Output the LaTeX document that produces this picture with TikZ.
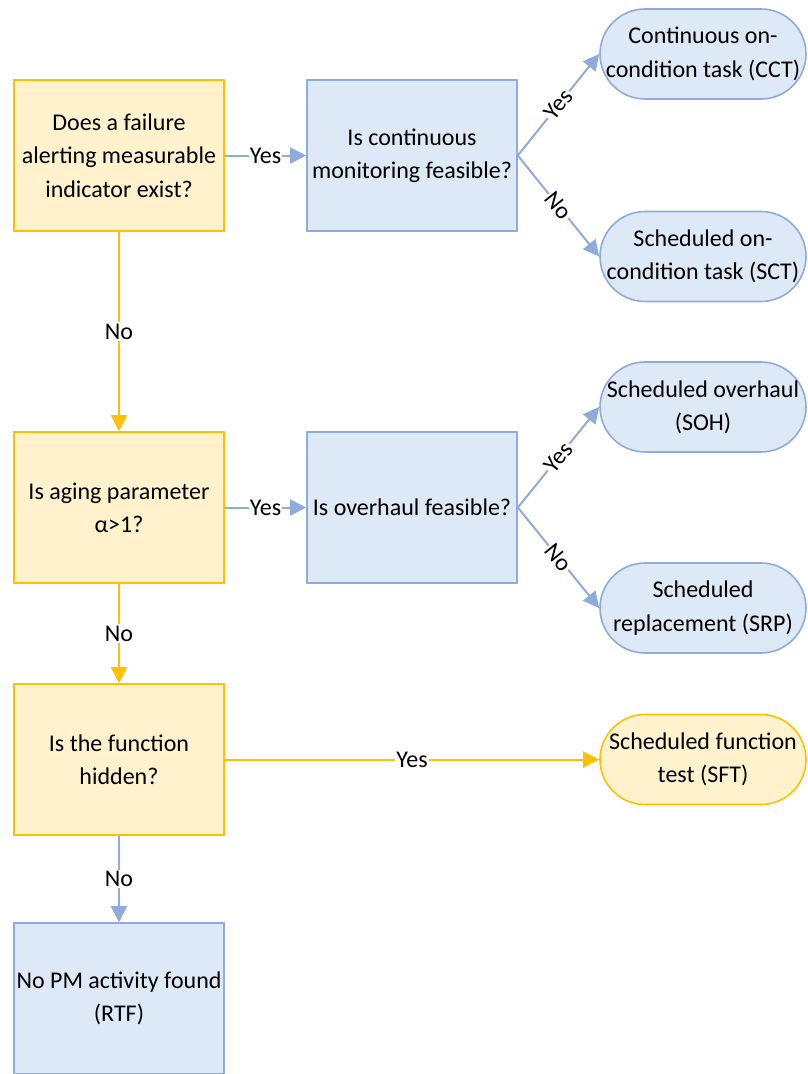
\documentclass[tikz,border=0pt]{standalone}
\usepackage{fontspec}
\setmainfont{Carlito}
\usetikzlibrary{arrows.meta}
\definecolor{yline}{RGB}{255,192,0}
\definecolor{yfill}{RGB}{255,242,204}
\definecolor{bline}{RGB}{143,170,220}
\definecolor{bfill}{RGB}{221,233,246}
\begin{document}
\begin{tikzpicture}[x=0.75pt,y=-0.75pt,line width=1.5pt,
   >={Triangle[length=12pt,width=12pt]},
   every node/.style={font=\fontsize{18pt}{25pt}\selectfont,align=center},
   ybox/.style={draw=yline,fill=yfill,line width=1.2pt,inner sep=2pt,minimum width=157.5pt,minimum height=113.25pt},
   bbox/.style={draw=bline,fill=bfill,line width=1.2pt,inner sep=2pt,minimum width=157.5pt,minimum height=113.25pt},
   yterm/.style={ybox,rounded corners=33.75pt,minimum width=154.5pt,minimum height=67.5pt},
   bterm/.style={bbox,rounded corners=33.75pt,minimum width=154.5pt,minimum height=67.5pt},
   yarr/.style={draw=yline,->},
   barr/.style={draw=bline,->},
   lab/.style={fill=white,inner sep=1pt}]
     \useasboundingbox (0,0) rectangle (807,1074);
       \clip (0,0) rectangle (807,1074);
   \node (A) at (119,155.5)[ybox]{Does a failure\\alerting measurable\\indicator exist?};
      \node (B) at (412,155.5)[bbox]{Is continuous\\monitoring feasible?};
         \node (C) at (703,54)[bterm]{Continuous on-\\condition task (CCT)};
         \node (D) at (703,256.5)[bterm]{Scheduled on-\\condition task (SCT)};
   \node (E) at (119,507.5)[ybox]{Is aging parameter\\α>1?};
      \node (F) at (412,507.5)[bbox]{Is overhaul feasible?};
         \node (G) at (703,407)[bterm]{Scheduled overhaul\\(SOH)};
         \node (H) at (703,608)[bterm]{Scheduled\\replacement (SRP)};
   \node (I) at (119,759.5)[ybox]{Is the function\\hidden?};
         \node (J) at (703,759.5)[yterm]{Scheduled function\\test (SFT)};
   \node (K) at (119,998.5)[bbox]{No PM activity found\\(RTF)};
  \draw[barr] (A)--node[lab]{Yes}(B);
  \draw[barr] (B.east)--node[lab,sloped]{Yes}(C.west);
  \draw[barr] (B.east)--node[lab,sloped]{No}(D.west);
  \draw[yarr] (A)--node[lab]{No}(E);
  \draw[barr] (E)--node[lab]{Yes}(F);
  \draw[barr] (F.east)--node[lab,sloped]{Yes}(G.west);
  \draw[barr] (F.east)--node[lab,sloped]{No}(H.west);
  \draw[yarr] (E)--node[lab]{No}(I);
  \draw[yarr] (I)--node[lab]{Yes}(J);
  \draw[barr] (I)--node[lab]{No}(K);
\end{tikzpicture}
\end{document}
